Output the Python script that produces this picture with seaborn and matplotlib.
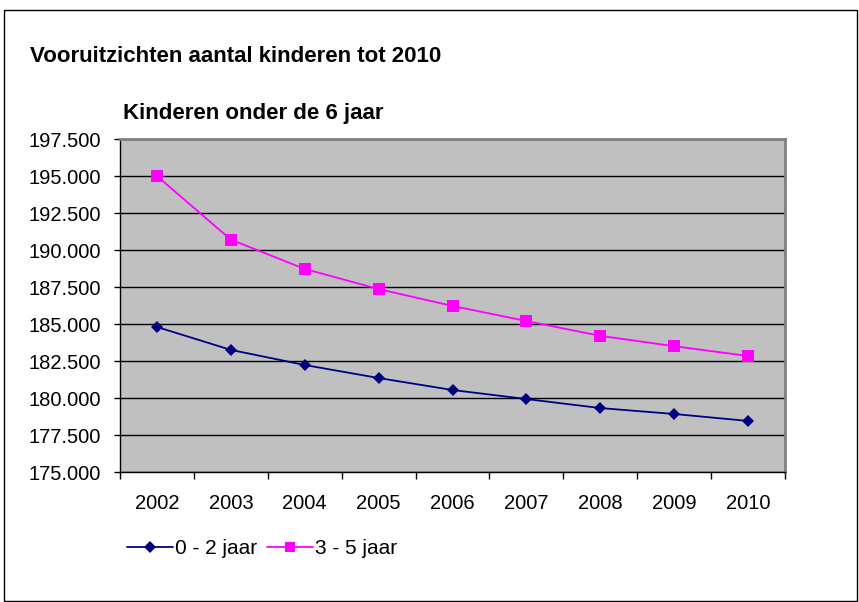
import matplotlib
matplotlib.use("Agg")
import numpy as np
import pandas as pd
import matplotlib.pyplot as plt
import seaborn as sns
from matplotlib.ticker import FuncFormatter, FixedLocator
from matplotlib.patches import Rectangle

# data
jaren = ["2002", "2003", "2004", "2005", "2006", "2007", "2008", "2009", "2010"]
jaar_0_2 = [184800, 183250, 182230, 181350, 180540, 179930, 179320, 178920, 178450]
jaar_3_5 = [195000, 190700, 188720, 187360, 186220, 185200, 184200, 183500, 182840]
reeksen = ["0 - 2 jaar", "3 - 5 jaar"]

df = pd.DataFrame({
    "pos": list(range(len(jaren))) * 2,
    "waarde": jaar_0_2 + jaar_3_5,
    "reeks": [reeksen[0]] * len(jaren) + [reeksen[1]] * len(jaren),
})

sns.set_style("white")
plt.rcParams['font.family'] = ['Liberation Sans', 'DejaVu Sans']
plt.rcParams['text.color'] = 'black'
plt.rcParams['xtick.color'] = 'black'
plt.rcParams['ytick.color'] = 'black'

fig = plt.figure(figsize=(8.59, 6.02), dpi=100)
ax = fig.add_axes([120 / 859, 1 - 472 / 602, 665 / 859, 333 / 602])
ax.set_facecolor("#c0c0c0")

kleuren = {reeksen[0]: "#000080", reeksen[1]: "#ff00ff"}
markers = {reeksen[0]: "D", reeksen[1]: "s"}
sns.lineplot(data=df, x="pos", y="waarde", hue="reeks", style="reeks",
             palette=kleuren, markers=markers, dashes=False, markersize=8,
             markeredgewidth=0, linewidth=1.3, ax=ax, legend=False)
# ruit iets kleiner
for ln in ax.get_lines():
    if ln.get_marker() == "D":
        ln.set_markersize(6.5)

ax.set_xlim(-0.5, len(jaren) - 0.5)
ax.set_ylim(175000, 197500)
ax.set_yticks(np.arange(175000, 197501, 2500))
ax.yaxis.set_major_formatter(FuncFormatter(lambda v, p: f"{int(v):,}".replace(",", ".")))
ax.yaxis.grid(True, color="black", linewidth=1)
ax.set_axisbelow(True)

# categorie-ticks tussen de jaren
ax.xaxis.set_major_locator(FixedLocator(np.arange(-0.5, len(jaren), 1)))
ax.xaxis.set_minor_locator(FixedLocator(np.arange(len(jaren))))
ax.set_xticklabels([])
ax.set_xticklabels(jaren, minor=True)
ax.tick_params(axis="x", which="major", bottom=True, length=5, width=1, color="black", direction="out")
ax.tick_params(axis="x", which="minor", bottom=True, length=0, pad=16, labelsize=14.5)
ax.tick_params(axis="y", left=True, length=4.5, width=1, color="black", direction="out",
               labelsize=14.5, pad=9)
ax.set_xlabel("")
ax.set_ylabel("")

for kant in ["left", "bottom"]:
    ax.spines[kant].set_color("black")
    ax.spines[kant].set_linewidth(1)
for kant in ["top", "right"]:
    ax.spines[kant].set_color("#808080")
    ax.spines[kant].set_linewidth(2)
for s in ax.spines.values():
    s.set_visible(True)

# titels
fig.text(30 / 859, 1 - 57 / 602, "Vooruitzichten aantal kinderen tot 2010",
         fontsize=16, fontweight="bold", va="center", ha="left")
fig.text(123 / 859, 1 - 113 / 602, "Kinderen onder de 6 jaar",
         fontsize=16, fontweight="bold", va="center", ha="left")

# legenda
handles = [plt.Line2D([], [], color=kleuren[r], marker=markers[r], linewidth=1.3,
                      markersize=6.5 if markers[r] == "D" else 7, markeredgewidth=0)
           for r in reeksen]
fig.legend(handles, reeksen, loc="center left", bbox_to_anchor=(108 / 859, 1 - 549 / 602),
           ncol=2, frameon=False, handlelength=2.2, handletextpad=0.1,
           columnspacing=0.5, fontsize=15)

# buitenrand
fig.patches.append(Rectangle((4 / 859, 1 / 602), 853 / 859, 591 / 602, transform=fig.transFigure,
                             fill=False, edgecolor="black", linewidth=1))

fig.savefig("out.png", dpi=100)
